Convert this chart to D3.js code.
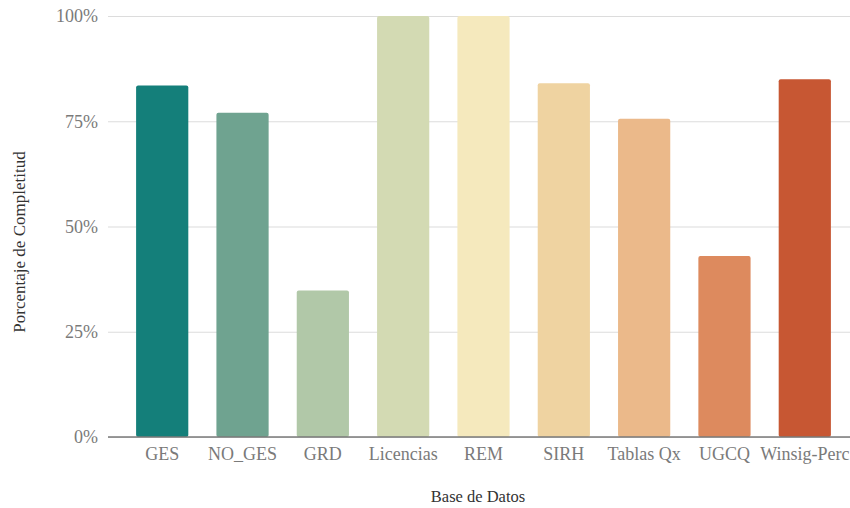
<!DOCTYPE html>
<html>
<head>
<meta charset="utf-8">
<script src="https://cdn.jsdelivr.net/npm/d3@7"></script>
<style>
  body { margin: 0; background: #fff; }
  svg { display: block; font-family: "Liberation Serif", "DejaVu Serif", serif; }
</style>
</head>
<body>
<div id="chart"></div>
<script>
// Data
let categories = ["GES", "NO_GES", "GRD", "Licencias", "REM", "SIRH", "Tablas Qx", "UGCQ", "Winsig-Perc"];
let values = [83.5, 77, 34.8, 100, 100, 84, 75.6, 43, 85];
let palette = ["#147f7a", "#6fa390", "#b1c8a8", "#d3dab3", "#f5e9bd", "#efd3a1", "#ebb98a", "#dd8a5e", "#c75733"];
let yTicks = [0, 25, 50, 75, 100];

// Setup
let width = 850, height = 508;
let margin = ({ top: 16, right: -5, bottom: 71, left: 108 });

let svg = d3.select("#chart").append("svg")
  .attr("width", width)
  .attr("height", height);

let x = d3.scaleBand()
  .domain(categories)
  .range([margin.left + 4, width - margin.right])
  .paddingInner(0.35)
  .paddingOuter(0.3);

let y = d3.scaleLinear()
  .domain([0, 100])
  .range([height - margin.bottom, margin.top]);

// Gridlines + y labels
let yAxis = svg.append("g")
  .attr("transform", `translate(${margin.left},0)`)
  .call(d3.axisLeft(y).tickValues(yTicks).tickSize(-(width - margin.left)).tickFormat(d => d + "%"));
yAxis.select(".domain").remove();
yAxis.selectAll(".tick line").attr("stroke", "#dcdcdc").attr("stroke-width", 1.2);
yAxis.selectAll(".tick text")
  .attr("x", -10)
  .attr("fill", "#7a7a7a")
  .attr("font-size", 18)
  .attr("font-family", "Liberation Serif, serif");

// Bars
svg.append("g")
  .selectAll("rect")
  .data(categories)
  .join("rect")
  .attr("x", d => x(d))
  .attr("y", (d, i) => y(values[i]))
  .attr("width", x.bandwidth())
  .attr("height", (d, i) => y(0) - y(values[i]))
  .attr("rx", 2)
  .attr("fill", (d, i) => palette[i]);

// Baseline
svg.append("line")
  .attr("x1", margin.left)
  .attr("x2", width)
  .attr("y1", y(0))
  .attr("y2", y(0))
  .attr("stroke", "#7a7a7a")
  .attr("stroke-width", 1.5);

// X axis labels
let xAxis = svg.append("g")
  .attr("transform", `translate(0,${y(0)})`)
  .call(d3.axisBottom(x).tickSize(0).tickPadding(10));
xAxis.select(".domain").remove();
xAxis.selectAll(".tick text")
  .attr("fill", "#7a7a7a")
  .attr("font-size", 18)
  .attr("font-family", "Liberation Serif, serif");

// Axis titles
svg.append("text")
  .attr("x", 478)
  .attr("y", 502)
  .attr("text-anchor", "middle")
  .attr("fill", "#333")
  .attr("font-size", 16.5)
  .text("Base de Datos");

svg.append("text")
  .attr("transform", `translate(25,${242}) rotate(-90)`)
  .attr("text-anchor", "middle")
  .attr("fill", "#333")
  .attr("font-size", 17)
  .text("Porcentaje de Completitud");
</script>
</body>
</html>
